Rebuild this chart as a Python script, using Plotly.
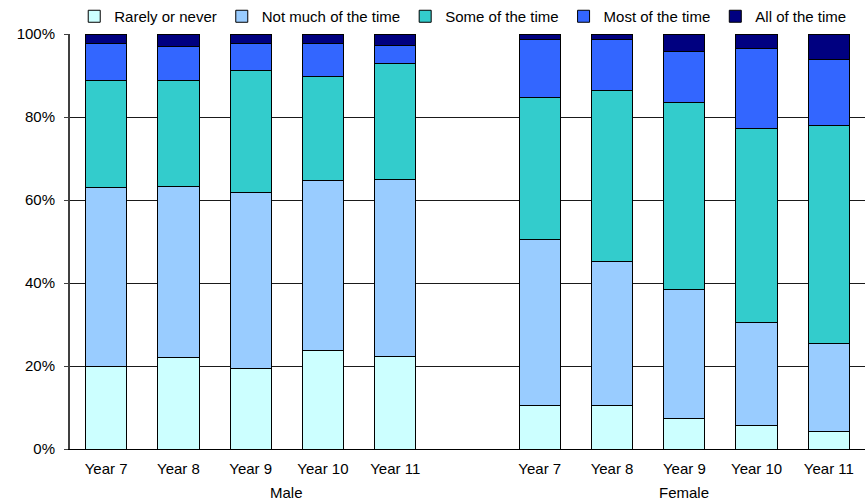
import plotly.graph_objects as go

# Survey responses by school year, split by sex (percent of respondents)
groups = ["Male", "Female"]
years = ["Year 7", "Year 8", "Year 9", "Year 10", "Year 11"]
responses = ["Rarely or never", "Not much of the time", "Some of the time",
             "Most of the time", "All of the time"]

male_rarely = [20.0, 22.0, 19.3, 23.7, 22.4]
male_not_much = [42.9, 41.3, 42.6, 40.9, 42.5]
male_some = [25.8, 25.4, 29.2, 25.1, 28.0]
male_most = [9.1, 8.2, 6.5, 8.0, 4.4]
male_all = [2.2, 3.1, 2.4, 2.3, 2.7]

female_rarely = [10.4, 10.4, 7.4, 5.7, 4.3]
female_not_much = [40.2, 34.8, 31.0, 24.8, 21.1]
female_some = [34.1, 41.2, 45.0, 46.7, 52.5]
female_most = [13.9, 12.2, 12.4, 19.4, 15.9]
female_all = [1.4, 1.4, 4.2, 3.4, 6.2]

colors = ["#CCFFFF", "#99CCFF", "#33CCCC", "#3366FF", "#000080"]

male_series = [male_rarely, male_not_much, male_some, male_most, male_all]
female_series = [female_rarely, female_not_much, female_some, female_most, female_all]

# Category slots: males 0-4, one empty slot, females 6-10
n = len(years)
male_x = list(range(n))
female_x = [n + 1 + i for i in range(n)]
x_all = male_x + female_x

font_family = "Liberation Sans, Arial, sans-serif"
fs = 15

fig = go.Figure()
for name, color, m_vals, f_vals in zip(responses, colors, male_series, female_series):
    fig.add_trace(go.Bar(
        x=x_all,
        y=m_vals + f_vals,
        name=name,
        width=0.57,
        marker=dict(color=color, line=dict(color="#000000", width=1)),
    ))

fig.update_layout(
    barmode="stack",
    width=865,
    height=504,
    margin=dict(l=70, r=0, t=33, b=55),
    paper_bgcolor="white",
    plot_bgcolor="white",
    font=dict(family=font_family, size=fs, color="#000000"),
    legend=dict(
        orientation="h",
        x=0.494,
        xanchor="center",
        y=1.041,
        yanchor="middle",
        font=dict(size=fs),
        itemwidth=30,
        traceorder="normal",
        bgcolor="rgba(0,0,0,0)",
    ),
    showlegend=True,
)

fig.update_xaxes(
    range=[-0.5, 2 * n + 0.5],
    tickmode="array",
    tickvals=x_all,
    ticktext=years + years,
    showgrid=False,
    zeroline=False,
    showline=True,
    linecolor="#000000",
    linewidth=1,
    ticks="",
    ticklabelstandoff=6,
    tickfont=dict(size=fs),
)

fig.update_yaxes(
    range=[0, 100],
    tick0=0,
    dtick=20,
    ticksuffix="%",
    showgrid=True,
    gridcolor="#1a1a1a",
    gridwidth=1,
    zeroline=False,
    showline=True,
    linecolor="#404040",
    linewidth=2,
    ticks="outside",
    ticklen=4,
    tickcolor="#404040",
    ticklabelstandoff=6,
    tickfont=dict(size=fs),
)

# Group labels under the year labels
male_center = (male_x[0] + n) / 2
female_center = (female_x[0] + female_x[-1]) / 2
for label, xc in zip(groups, [male_center, female_center]):
    fig.add_annotation(
        x=xc, y=0, xref="x", yref="paper",
        text=label, showarrow=False,
        yshift=-54, font=dict(size=fs),
    )

fig.write_html("out.html")
